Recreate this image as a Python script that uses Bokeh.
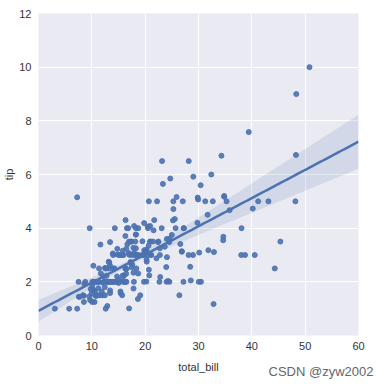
import numpy as np
from bokeh.plotting import figure
from bokeh.models import Label
from bokeh.embed import file_html
from bokeh.resources import INLINE

# seaborn "tips" dataset: total_bill and tip
total_bill = [16.99, 10.34, 21.01, 23.68, 24.59, 25.29, 8.77, 26.88, 15.04, 14.78,
              10.27, 35.26, 15.42, 18.43, 14.83, 21.58, 10.33, 16.29, 16.97, 20.65,
              17.92, 20.29, 15.77, 39.42, 19.82, 17.81, 13.37, 12.69, 21.70, 19.65,
              9.55, 18.35, 15.06, 20.69, 17.78, 24.06, 16.31, 16.93, 18.69, 31.27,
              16.04, 17.46, 13.94, 9.68, 30.40, 18.29, 22.23, 32.40, 28.55, 18.04,
              12.54, 10.29, 34.81, 9.94, 25.56, 19.49, 38.01, 26.41, 11.24, 48.27,
              20.29, 13.81, 11.02, 18.29, 17.59, 20.08, 16.45, 3.07, 20.23, 15.01,
              12.02, 17.07, 26.86, 25.28, 14.73, 10.51, 17.92, 27.20, 22.76, 17.29,
              19.44, 16.66, 10.07, 32.68, 15.98, 34.83, 13.03, 18.28, 24.71, 21.16,
              28.97, 22.49, 5.75, 16.32, 22.75, 40.17, 27.28, 12.03, 21.01, 12.46,
              11.35, 15.38, 44.30, 22.42, 20.92, 15.36, 20.49, 25.21, 18.24, 14.31,
              14.00, 7.25, 38.07, 23.95, 25.71, 17.31, 29.93, 10.65, 12.43, 24.08,
              11.69, 13.42, 14.26, 15.95, 12.48, 29.80, 8.52, 14.52, 11.38, 22.82,
              19.08, 20.27, 11.17, 12.26, 18.26, 8.51, 10.33, 14.15, 16.00, 13.16,
              17.47, 34.30, 41.19, 27.05, 16.43, 8.35, 18.64, 11.87, 9.78, 7.51,
              14.07, 13.13, 17.26, 24.55, 19.77, 29.85, 48.17, 25.00, 13.39, 16.49,
              21.50, 12.66, 16.21, 13.81, 17.51, 24.52, 20.76, 31.71, 10.59, 10.63,
              50.81, 15.81, 7.25, 31.85, 16.82, 32.90, 17.89, 14.48, 9.60, 34.63,
              34.65, 23.33, 45.35, 23.17, 40.55, 20.69, 20.90, 30.46, 18.15, 23.10,
              15.69, 19.81, 28.44, 15.48, 16.58, 7.56, 10.34, 43.11, 13.00, 13.51,
              18.71, 12.74, 13.00, 16.40, 20.53, 16.47, 26.59, 38.73, 24.27, 12.76,
              30.06, 25.89, 48.33, 13.27, 28.17, 12.90, 28.15, 11.59, 7.74, 30.14,
              12.16, 13.42, 8.58, 15.98, 13.42, 16.27, 10.09, 20.45, 13.28, 22.12,
              24.01, 15.69, 11.61, 10.77, 15.53, 10.07, 12.60, 32.83, 35.83, 29.03,
              27.18, 22.67, 17.82, 18.78]
tip = [1.01, 1.66, 3.50, 3.31, 3.61, 4.71, 2.00, 3.12, 1.96, 3.23,
       1.71, 5.00, 1.57, 3.00, 3.02, 3.92, 1.67, 3.71, 3.50, 3.35,
       4.08, 2.75, 2.23, 7.58, 3.18, 2.34, 2.00, 2.00, 4.30, 3.00,
       1.45, 2.50, 3.00, 2.45, 3.27, 3.60, 2.00, 3.07, 2.31, 5.00,
       2.24, 2.54, 3.06, 1.32, 5.60, 3.00, 5.00, 6.00, 2.05, 3.00,
       2.50, 2.60, 5.20, 1.56, 4.34, 3.51, 3.00, 1.50, 1.76, 6.73,
       3.21, 2.00, 1.98, 3.76, 2.64, 3.15, 2.47, 1.00, 2.01, 2.09,
       1.97, 3.00, 3.14, 5.00, 2.20, 1.25, 3.08, 4.00, 3.00, 2.71,
       3.00, 3.40, 1.83, 5.00, 2.03, 5.17, 2.00, 4.00, 5.85, 3.00,
       3.00, 3.50, 1.00, 4.30, 3.25, 4.73, 4.00, 1.50, 3.00, 1.50,
       2.50, 3.00, 2.50, 3.48, 4.08, 1.64, 4.06, 4.29, 3.76, 4.00,
       3.00, 1.00, 4.00, 2.55, 4.00, 3.50, 5.07, 1.50, 1.80, 2.92,
       2.31, 1.68, 2.50, 2.00, 2.52, 4.20, 1.48, 2.00, 2.00, 2.18,
       1.50, 2.83, 1.50, 2.00, 3.25, 1.25, 2.00, 2.00, 2.00, 2.75,
       3.50, 6.70, 5.00, 5.00, 2.30, 1.50, 1.36, 1.63, 1.73, 2.00,
       2.50, 2.00, 2.74, 2.00, 2.00, 5.14, 5.00, 3.75, 2.61, 2.00,
       3.50, 2.50, 2.00, 2.00, 3.00, 3.48, 2.24, 4.50, 1.61, 2.00,
       10.00, 3.16, 5.15, 3.18, 4.00, 3.11, 2.00, 2.00, 4.00, 3.55,
       3.68, 5.65, 3.50, 6.50, 3.00, 5.00, 3.50, 2.00, 3.50, 4.00,
       1.50, 4.19, 2.56, 2.02, 4.00, 1.44, 2.00, 5.00, 2.00, 2.00,
       4.00, 2.01, 2.00, 2.50, 4.00, 3.23, 3.41, 3.00, 2.03, 2.23,
       2.00, 5.16, 9.00, 2.50, 6.50, 1.10, 3.00, 1.50, 1.44, 3.09,
       2.20, 3.48, 1.92, 3.00, 1.58, 2.50, 2.00, 3.00, 2.72, 2.88,
       2.00, 3.00, 3.39, 1.47, 3.00, 1.25, 1.00, 1.17, 4.67, 5.92,
       2.00, 2.00, 1.75, 3.00]

x_ticks = [0, 10, 20, 30, 40, 50, 60]
y_ticks = [0, 2, 4, 6, 8, 10, 12]

COLOR = "#4C72B0"

# regression fit with robust (HC1) confidence band
x = np.array(total_bill)
y = np.array(tip)
n = len(x)
X = np.column_stack([np.ones(n), x])
beta, *_ = np.linalg.lstsq(X, y, rcond=None)
resid = y - X @ beta
XtX_inv = np.linalg.inv(X.T @ X)
meat = X.T @ (X * (resid ** 2)[:, None])
cov = XtX_inv @ meat @ XtX_inv * n / (n - 2)
grid = np.linspace(0, 60, 100)
G = np.column_stack([np.ones_like(grid), grid])
yhat = G @ beta
se = np.sqrt(np.einsum("ij,jk,ik->i", G, cov, G))
lower = yhat - 1.97 * se
upper = yhat + 1.97 * se

p = figure(frame_width=320, frame_height=322, x_range=(0, 60), y_range=(0, 12),
           output_backend="svg", toolbar_location=None,
           min_border_left=32, min_border_right=20, min_border_top=13, min_border_bottom=34)
p.background_fill_color = "#EAEAF2"
p.border_fill_color = "white"
p.outline_line_color = None

for ax in (p.xaxis[0], p.yaxis[0]):
    ax.axis_line_color = None
    ax.major_tick_line_color = None
    ax.minor_tick_line_color = None
    ax.major_tick_out = 0
    ax.major_tick_in = 0
    ax.major_label_text_font = "Liberation Sans"
    ax.major_label_text_font_size = "11px"
    ax.major_label_text_color = "#333333"
    ax.axis_label_text_font = "Liberation Sans"
    ax.axis_label_text_font_size = "11px"
    ax.axis_label_text_font_style = "normal"
    ax.axis_label_text_color = "#333333"

p.xaxis.ticker = x_ticks
p.yaxis.ticker = y_ticks
p.xaxis.axis_label = "total_bill"
p.yaxis.axis_label = "tip"
p.xaxis.major_label_standoff = 6
p.yaxis.major_label_standoff = 7
p.xaxis.axis_label_standoff = 8
p.yaxis.axis_label_standoff = 1

p.xgrid.grid_line_color = "white"
p.ygrid.grid_line_color = "white"
p.xgrid.grid_line_width = 1
p.ygrid.grid_line_width = 1

p.scatter(x, y, size=5, fill_color=COLOR, line_color=COLOR, fill_alpha=0.9, line_alpha=0.9)
p.varea(x=grid, y1=lower, y2=upper, fill_color=COLOR, fill_alpha=0.15)
p.line(grid, yhat, line_color=COLOR, line_width=2.5)

wm = Label(x=335, y=19, x_units="screen", y_units="screen", text="CSDN @zyw2002",
           text_font="Liberation Sans", text_font_size="13px", text_color="#666666",
           text_align="right", text_baseline="middle")
p.add_layout(wm, "below")

open("out.html", "w").write(file_html(p, INLINE))
